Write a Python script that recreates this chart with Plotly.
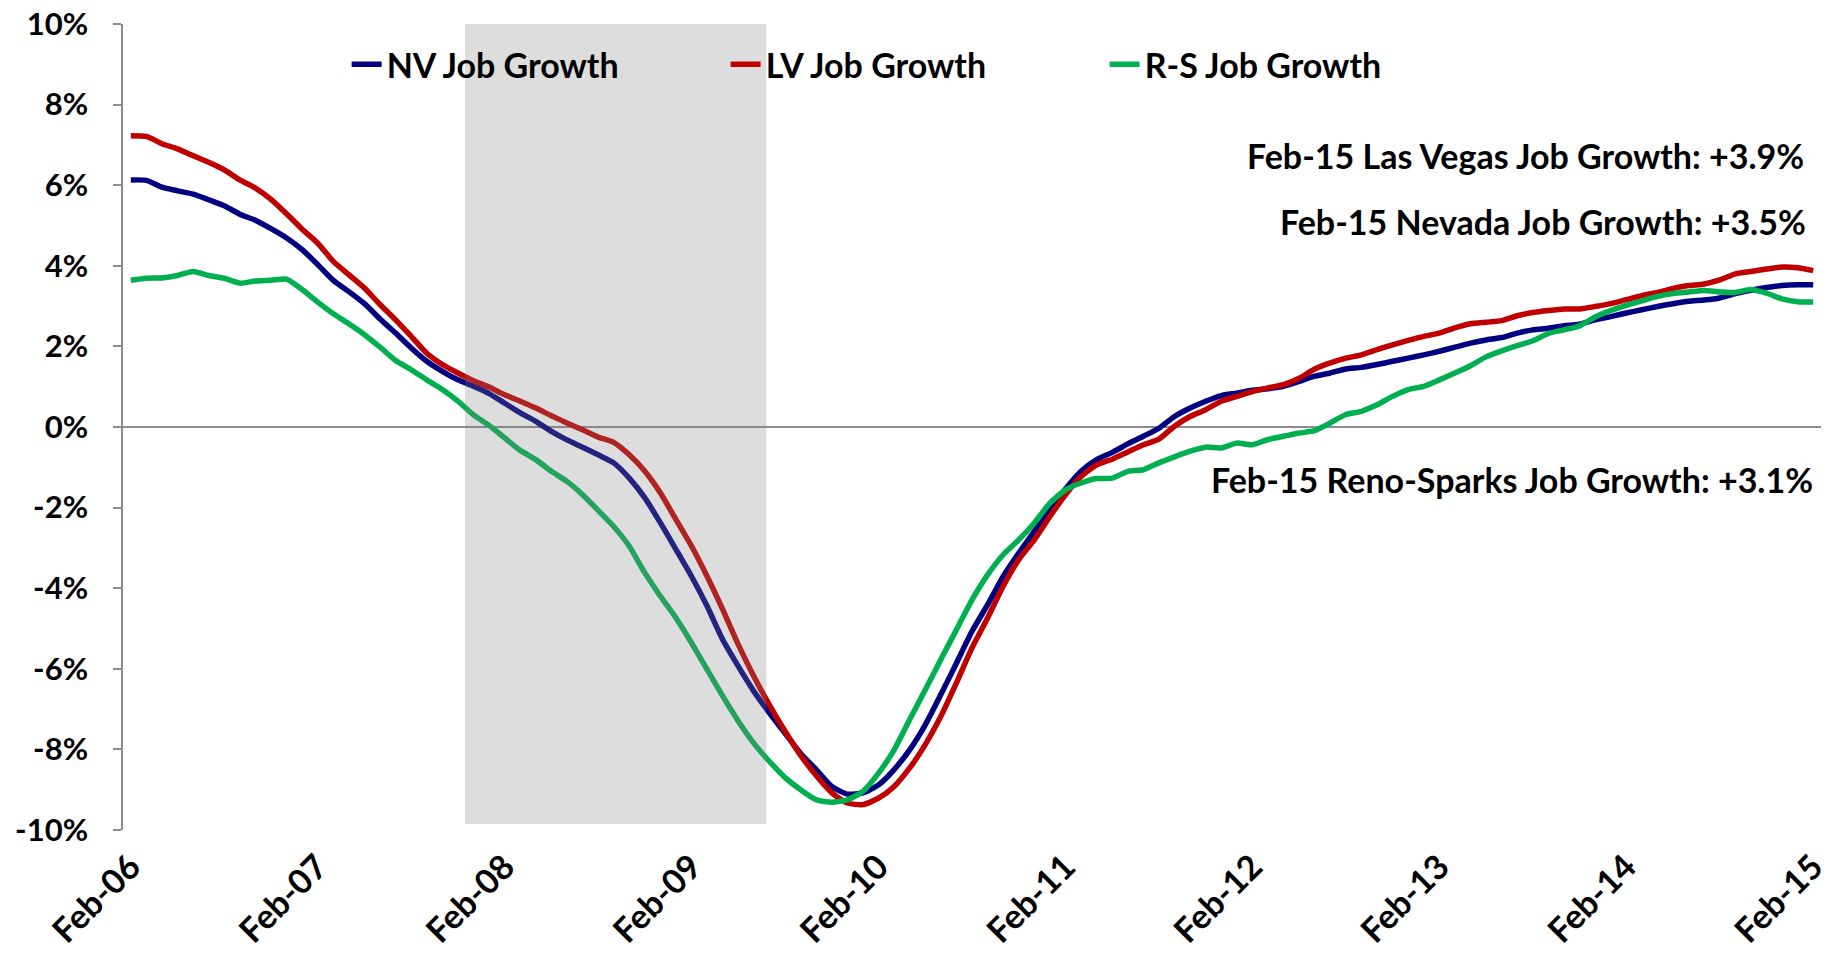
import plotly.graph_objects as go

# ---- data (monthly, Feb-2006 .. Feb-2015), year-over-year job growth in % ----
tick_labels = ["Feb-06", "Feb-07", "Feb-08", "Feb-09", "Feb-10",
               "Feb-11", "Feb-12", "Feb-13", "Feb-14", "Feb-15"]

nv_growth = [
    6.13, 6.12, 5.95, 5.86, 5.78, 5.64, 5.49, 5.28, 5.13, 4.92, 4.69, 4.40,
    4.03, 3.64, 3.36, 3.06, 2.68, 2.33, 1.96, 1.63, 1.38, 1.17, 1.01, 0.83,
    0.59, 0.35, 0.14, -0.11, -0.32, -0.50, -0.69, -0.89, -1.27, -1.76, -2.38, -3.04,
    -3.71, -4.45, -5.28, -5.94, -6.56, -7.10, -7.60, -8.10, -8.50, -8.92, -9.11, -9.08,
    -8.88, -8.50, -8.01, -7.39, -6.64, -5.86, -5.07, -4.41, -3.71, -3.13, -2.59, -2.05,
    -1.54, -1.10, -0.81, -0.63, -0.42, -0.23, -0.03, 0.26, 0.47, 0.64, 0.78, 0.84,
    0.91, 0.95, 1.01, 1.13, 1.26, 1.34, 1.44, 1.48, 1.55, 1.63, 1.71, 1.79,
    1.88, 1.98, 2.08, 2.16, 2.22, 2.33, 2.41, 2.45, 2.51, 2.55, 2.66, 2.74,
    2.83, 2.91, 2.99, 3.06, 3.12, 3.15, 3.20, 3.31, 3.39, 3.46, 3.51, 3.53, 3.53,
]

lv_growth = [
    7.23, 7.21, 7.03, 6.90, 6.73, 6.57, 6.38, 6.13, 5.93, 5.65, 5.29, 4.91,
    4.56, 4.11, 3.78, 3.45, 3.04, 2.66, 2.25, 1.83, 1.55, 1.34, 1.15, 0.99,
    0.80, 0.64, 0.47, 0.28, 0.10, -0.07, -0.25, -0.38, -0.69, -1.10, -1.64, -2.30,
    -2.96, -3.71, -4.53, -5.40, -6.19, -6.90, -7.55, -8.15, -8.65, -9.08, -9.33, -9.37,
    -9.21, -8.92, -8.46, -7.88, -7.18, -6.35, -5.48, -4.74, -3.95, -3.29, -2.80, -2.22,
    -1.68, -1.23, -0.94, -0.80, -0.62, -0.44, -0.30, 0.02, 0.26, 0.43, 0.64, 0.76,
    0.88, 0.97, 1.05, 1.21, 1.44, 1.59, 1.71, 1.79, 1.92, 2.04, 2.15, 2.25,
    2.33, 2.46, 2.56, 2.60, 2.64, 2.76, 2.84, 2.89, 2.93, 2.93, 2.99, 3.06,
    3.16, 3.26, 3.34, 3.44, 3.51, 3.55, 3.65, 3.80, 3.86, 3.92, 3.97, 3.95, 3.88,
]

rs_growth = [
    3.64, 3.69, 3.70, 3.76, 3.86, 3.76, 3.69, 3.57, 3.62, 3.64, 3.67, 3.41,
    3.10, 2.81, 2.56, 2.29, 1.98, 1.65, 1.42, 1.17, 0.93, 0.64, 0.30, 0.04,
    -0.27, -0.58, -0.81, -1.10, -1.35, -1.68, -2.07, -2.47, -2.96, -3.62, -4.20, -4.74,
    -5.36, -6.02, -6.68, -7.30, -7.85, -8.30, -8.70, -9.00, -9.25, -9.31, -9.25, -9.04,
    -8.59, -8.01, -7.26, -6.52, -5.77, -5.03, -4.29, -3.67, -3.17, -2.80, -2.38, -1.89,
    -1.56, -1.39, -1.28, -1.27, -1.10, -1.06, -0.89, -0.74, -0.60, -0.50, -0.52, -0.40,
    -0.44, -0.31, -0.23, -0.15, -0.09, 0.10, 0.31, 0.39, 0.55, 0.76, 0.93, 1.01,
    1.17, 1.34, 1.52, 1.74, 1.89, 2.02, 2.14, 2.32, 2.41, 2.51, 2.73, 2.89,
    3.02, 3.13, 3.24, 3.31, 3.35, 3.39, 3.35, 3.34, 3.41, 3.32, 3.18, 3.11, 3.10,
]

# recession shading (month index from Feb-06), Dec-07 .. Jun-09
recession_start = 21.45
recession_end = 40.8
recession_floor = -9.85

y_ticks = [-10, -8, -6, -4, -2, 0, 2, 4, 6, 8, 10]

annotations_text = [
    ("Feb-15 Las Vegas Job Growth: +3.9%", 6.73),
    ("Feb-15 Nevada Job Growth: +3.5%", 5.09),
    ("Feb-15 Reno-Sparks Job Growth: +3.1%", -1.31),
]

# ---- figure ----
months = list(range(len(nv_growth)))
FONT = "Lato"

fig = go.Figure()
series = [
    ("NV Job Growth", nv_growth, "#000080"),
    ("LV Job Growth", lv_growth, "#C00000"),
    ("R-S Job Growth", rs_growth, "#00B050"),
]
for name, vals, color in series:
    fig.add_trace(go.Scatter(
        x=months, y=vals, name=name, mode="lines",
        line=dict(color=color, width=5.5, shape="spline", smoothing=0.6),
        hoverinfo="skip",
    ))

fig.add_shape(type="rect", xref="x", yref="y",
              x0=recession_start, x1=recession_end, y0=recession_floor, y1=10,
              fillcolor="rgba(128,128,128,0.27)", line=dict(width=0), layer="above")

ann_x = [107.55, 107.65, 108.1]
for (txt, yv), xv in zip(annotations_text, ann_x):
    fig.add_annotation(x=xv, y=yv, xref="x", yref="y", text=txt, showarrow=False,
                       xanchor="right", yanchor="middle",
                       font=dict(family=FONT, size=34, color="#000000", weight="bold"))

# plot area at x 123..1821, y 24..830 of the 1836x955 window (body margin removed)
fig.update_layout(
    width=1836, height=955,
    margin=dict(l=123, r=15, t=24, b=125),
    paper_bgcolor="white", plot_bgcolor="white",
    showlegend=True,
    legend=dict(orientation="h", x=0.1317, y=0.9495, xanchor="left", yanchor="middle",
                entrywidth=334, entrywidthmode="pixels",
                bgcolor="rgba(0,0,0,0)",
                font=dict(family=FONT, size=34, color="#000000", weight="bold")),
    font=dict(family=FONT, size=30, color="#000000"),
)

fig.update_xaxes(
    range=[-0.5, len(months) - 0.5],
    tickmode="array", tickvals=[i * 12 for i in range(len(tick_labels))], ticktext=tick_labels,
    tickangle=-45, showgrid=False, zeroline=False, showline=False, ticks="",
    ticklabelstandoff=9, automargin=False, ticklabeloverflow="allow",
    tickfont=dict(family=FONT, size=34, color="#000000", weight="bold"),
)
fig.update_yaxes(
    range=[-10, 10], tickmode="array", tickvals=y_ticks,
    ticktext=[f"{v}%" for v in y_ticks],
    showgrid=False, zeroline=True, zerolinecolor="#8C8C8C", zerolinewidth=1.5,
    showline=True, linecolor="#8C8C8C", linewidth=1.5,
    ticks="outside", ticklen=8, tickcolor="#8C8C8C", tickwidth=1.5,
    ticklabelstandoff=19, automargin=False, ticklabeloverflow="allow",
    tickfont=dict(family=FONT, size=31, color="#000000", weight="bold"),
)

fig.write_html("out.html",
               config={"displayModeBar": False},
               post_script="document.body.style.margin='0';document.body.style.overflow='hidden';")
